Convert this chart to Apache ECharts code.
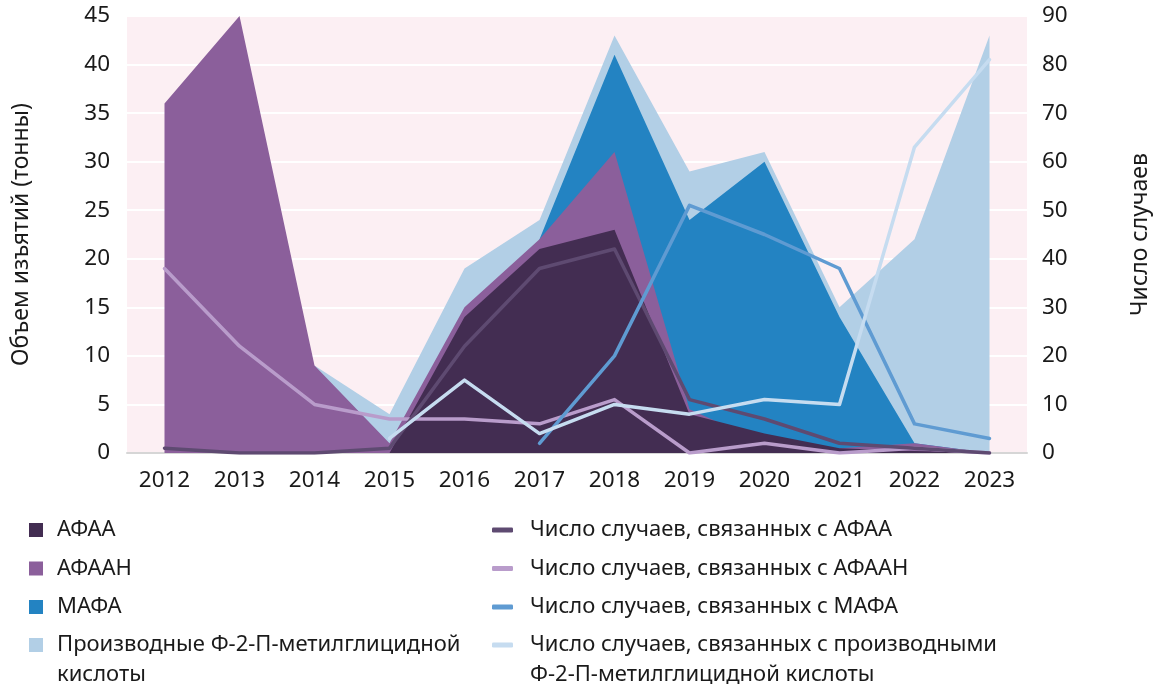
<!DOCTYPE html>
<html>
<head>
<meta charset="utf-8">
<script src="https://cdn.jsdelivr.net/npm/echarts@6/dist/echarts.min.js"></script>
<style>
  html, body { margin: 0; padding: 0; background: #fff; }
  #chart { width: 1153px; height: 684px; }
</style>
</head>
<body>
<div id="chart"></div>
<script>
const years = ['2012', '2013', '2014', '2015', '2016', '2017', '2018', '2019', '2020', '2021', '2022', '2023'];

// изъятия, тонны (левая ось)
const seizAFAA = [0, 0, 0, 0, 14, 21, 23, 4, 2, 0.5, 0.2, 0];
const seizAFAAN = [36, 45, 9, 1, 15, 22, 31, 4.5, 1, 0.5, 1, 0];
const seizMAFA = [0, 0, 0, 0, 0, 22, 41, 24, 30, 14, 1, 0];
const seizDeriv = [0, 0, 9, 4, 19, 24, 43, 29, 31, 15, 22, 43];

// число случаев (правая ось)
const casesAFAA = [1, 0, 0, 1, 22, 38, 42, 11, 7, 2, 1, 0];
const casesAFAAN = [38, 22, 10, 7, 7, 6, 11, 0, 2, 0, 1, 0];
const casesMAFA = [null, null, null, null, null, 2, 20, 51, 45, 38, 6, 3];
const casesDeriv = [null, null, null, 3, 15, 4, 10, 8, 11, 10, 63, 81];

const names = {
  afaa: 'АФАА',
  afaan: 'АФААН',
  mafa: 'МАФА',
  deriv: 'Производные Ф-2-П-метилглицидной\nкислоты',
  cAfaa: 'Число случаев, связанных с АФАА',
  cAfaan: 'Число случаев, связанных с АФААН',
  cMafa: 'Число случаев, связанных с МАФА',
  cDeriv: 'Число случаев, связанных с производными\nФ-2-П-метилглицидной кислоты'
};

const FONT = 'Noto Sans';
const TXT = '#1a1a1a';

function area(name, data, color) {
  return {
    name: name,
    type: 'line',
    yAxisIndex: 0,
    data: data,
    symbol: 'none',
    silent: true,
    itemStyle: { color: color },
    lineStyle: { width: 0, color: color },
    areaStyle: { color: color, opacity: 1 }
  };
}

function line(name, data, color) {
  return {
    name: name,
    type: 'line',
    yAxisIndex: 1,
    data: data,
    symbol: 'none',
    silent: true,
    itemStyle: { color: color },
    lineStyle: { width: 3.5, color: color, cap: 'round', join: 'round' }
  };
}

const legendText = { fontFamily: FONT, fontSize: 22, color: TXT, lineHeight: 30 };
// пустая первая строка, чтобы значок стоял у первой строки подписи
const twoLine = function (n) { return ' \n' + n; };

const option = {
  animation: false,
  backgroundColor: '#fff',
  grid: {
    left: 127, right: 126, top: 16, bottom: 231,
    outerBoundsMode: 'none',
    show: true, backgroundColor: '#FCEFF3', borderWidth: 0
  },
  legend: [
    {
      data: [names.afaa, names.afaan, names.mafa],
      orient: 'vertical', left: 29, top: 515, padding: 0,
      icon: 'rect', itemWidth: 14, itemHeight: 14, itemGap: 8.5,
      textStyle: Object.assign({ padding: [0, 0, 0, 9] }, legendText)
    },
    {
      data: [names.deriv],
      formatter: twoLine,
      orient: 'vertical', left: 29, top: 600, padding: 0,
      icon: 'rect', itemWidth: 14, itemHeight: 14,
      textStyle: Object.assign({ padding: [0, 0, 0, 9] }, legendText)
    },
    {
      data: [names.cAfaa, names.cAfaan, names.cMafa],
      orient: 'vertical', left: 492, top: 515, padding: 0,
      icon: 'roundRect', itemWidth: 21, itemHeight: 5, itemGap: 8.5,
      textStyle: Object.assign({ padding: [0, 0, 0, 12] }, legendText)
    },
    {
      data: [names.cDeriv],
      formatter: twoLine,
      orient: 'vertical', left: 492, top: 600, padding: 0,
      icon: 'roundRect', itemWidth: 21, itemHeight: 5,
      textStyle: Object.assign({ padding: [0, 0, 0, 12] }, legendText)
    }
  ],
  xAxis: {
    type: 'category',
    data: years,
    boundaryGap: true,
    axisTick: { show: false },
    axisLine: { lineStyle: { color: '#d6d6d6', width: 2 } },
    axisLabel: { fontFamily: FONT, fontSize: 22.5, color: TXT, margin: 16 }
  },
  yAxis: [
    {
      type: 'value', min: 0, max: 45, interval: 5,
      name: 'Объем изъятий (тонны)',
      nameLocation: 'middle', nameRotate: 90, nameGap: 94,
      nameTextStyle: { fontFamily: FONT, fontSize: 23, color: TXT },
      axisLine: { show: false }, axisTick: { show: false },
      axisLabel: { fontFamily: FONT, fontSize: 22.5, color: TXT, margin: 17 },
      splitLine: { lineStyle: { color: '#ffffff', width: 2 } }
    },
    {
      type: 'value', min: 0, max: 90, interval: 10,
      name: 'Число случаев',
      nameLocation: 'middle', nameRotate: 90, nameGap: 102,
      nameTextStyle: { fontFamily: FONT, fontSize: 23, color: TXT },
      axisLine: { show: false }, axisTick: { show: false },
      axisLabel: { fontFamily: FONT, fontSize: 22.5, color: TXT, margin: 15 },
      splitLine: { show: false }
    }
  ],
  series: [
    area(names.deriv, seizDeriv, '#B2CFE6'),
    area(names.mafa, seizMAFA, '#2383C2'),
    area(names.afaan, seizAFAAN, '#8B5F9B'),
    area(names.afaa, seizAFAA, '#432D52'),
    line(names.cAfaan, casesAFAAN, '#B99CCB'),
    line(names.cAfaa, casesAFAA, '#5E4A71'),
    line(names.cMafa, casesMAFA, '#5F9BD2'),
    line(names.cDeriv, casesDeriv, '#C6DCF0')
  ]
};

const chart = echarts.init(document.getElementById('chart'), null, { renderer: 'canvas' });
chart.setOption(option);
</script>
</body>
</html>
